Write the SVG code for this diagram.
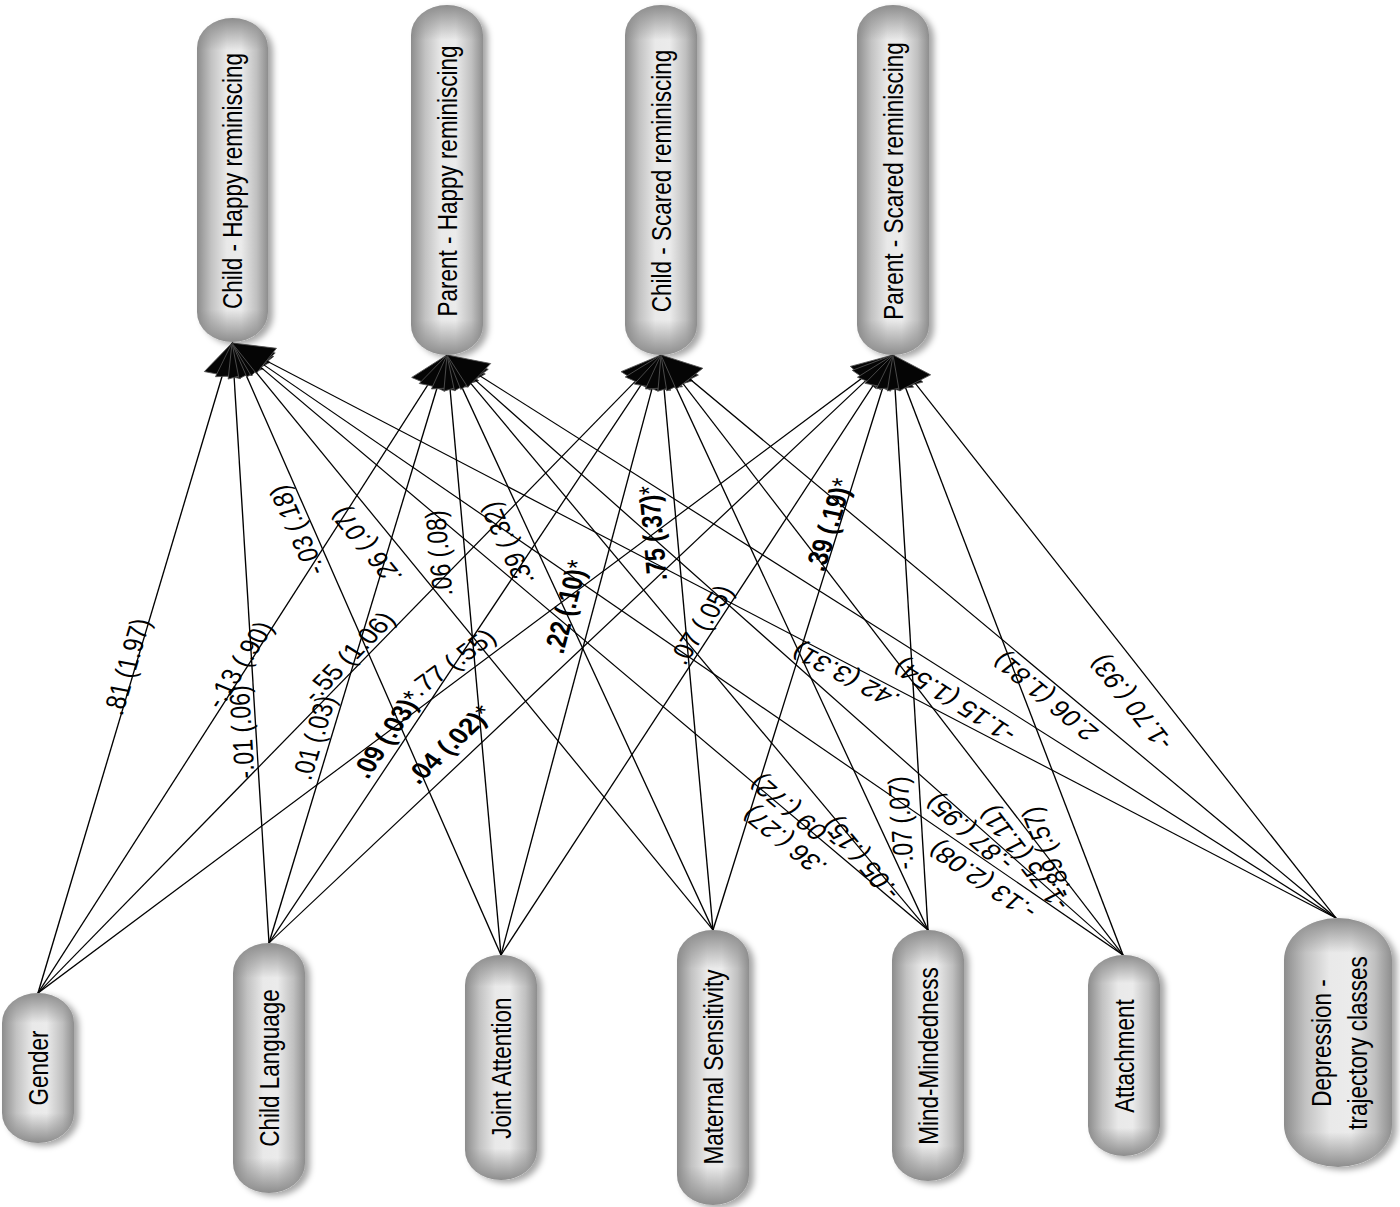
<svg xmlns="http://www.w3.org/2000/svg" width="1400" height="1207" viewBox="0 0 1400 1207">
<defs>
<style>
.edge{stroke:#000;stroke-width:1.1;fill:none;marker-end:url(#ah)}
.lbl{font-family:"Liberation Sans",Arial,sans-serif;font-size:23px;fill:#000;text-anchor:middle}
.b{font-weight:bold}
.nt{font-family:"Liberation Sans",Arial,sans-serif;font-size:22.5px;fill:#000;text-anchor:middle}
.pill{fill:url(#pillH);filter:url(#sh)}
.capL{fill:url(#capL)}
.capM{fill:url(#capM)}
.capS{fill:url(#capS)}
</style>
<marker id="ah" markerUnits="userSpaceOnUse" viewBox="-35 -17 37 34" refX="0" refY="0" markerWidth="37" markerHeight="34" orient="auto">
<path d="M0,0 L-33,-15 L-33,15 Z" fill="#050505" stroke="#555" stroke-width="0.7"/>
</marker>
<linearGradient id="pillH" x1="0" y1="0" x2="1" y2="0">
<stop offset="0" stop-color="#8c8c8c"/>
<stop offset="0.2" stop-color="#c2c2c2"/>
<stop offset="0.42" stop-color="#e9e9e9"/>
<stop offset="0.62" stop-color="#ebebeb"/>
<stop offset="0.84" stop-color="#c0c0c0"/>
<stop offset="1" stop-color="#8e8e8e"/>
</linearGradient>
<linearGradient id="capL" x1="0" y1="0" x2="0" y2="1">
<stop offset="0" stop-color="#888" stop-opacity="0.95"/>
<stop offset="0.1" stop-color="#888" stop-opacity="0"/>
<stop offset="0.9" stop-color="#888" stop-opacity="0"/>
<stop offset="1" stop-color="#888" stop-opacity="0.95"/>
</linearGradient>
<linearGradient id="capM" x1="0" y1="0" x2="0" y2="1">
<stop offset="0" stop-color="#888" stop-opacity="0.95"/>
<stop offset="0.14" stop-color="#888" stop-opacity="0"/>
<stop offset="0.86" stop-color="#888" stop-opacity="0"/>
<stop offset="1" stop-color="#888" stop-opacity="0.95"/>
</linearGradient>
<linearGradient id="capS" x1="0" y1="0" x2="0" y2="1">
<stop offset="0" stop-color="#888" stop-opacity="0.95"/>
<stop offset="0.2" stop-color="#888" stop-opacity="0"/>
<stop offset="0.8" stop-color="#888" stop-opacity="0"/>
<stop offset="1" stop-color="#888" stop-opacity="0.95"/>
</linearGradient>
<filter id="sh" x="-20%" y="-10%" width="150%" height="125%">
<feGaussianBlur in="SourceAlpha" stdDeviation="3"/>
<feOffset dx="5" dy="3" result="o"/>
<feFlood flood-color="#000" flood-opacity="0.35"/>
<feComposite in2="o" operator="in"/>
<feMerge><feMergeNode/><feMergeNode in="SourceGraphic"/></feMerge>
</filter>
</defs>
<rect width="1400" height="1207" fill="#fff"/>

<g id="connectors" transform="scale(1.24,1)">
<line class="edge" x1="30.65" y1="993" x2="187.10" y2="343"/>
<line class="edge" x1="30.65" y1="993" x2="360.48" y2="355"/>
<line class="edge" x1="30.65" y1="993" x2="533.06" y2="355"/>
<line class="edge" x1="30.65" y1="993" x2="720.16" y2="355"/>
<line class="edge" x1="216.94" y1="943" x2="187.10" y2="343"/>
<line class="edge" x1="216.94" y1="943" x2="360.48" y2="355"/>
<line class="edge" x1="216.94" y1="943" x2="533.06" y2="355"/>
<line class="edge" x1="216.94" y1="943" x2="720.16" y2="355"/>
<line class="edge" x1="404.03" y1="955" x2="187.10" y2="343"/>
<line class="edge" x1="404.03" y1="955" x2="360.48" y2="355"/>
<line class="edge" x1="404.03" y1="955" x2="533.06" y2="355"/>
<line class="edge" x1="404.03" y1="955" x2="720.16" y2="355"/>
<line class="edge" x1="575" y1="930" x2="187.10" y2="343"/>
<line class="edge" x1="575" y1="930" x2="360.48" y2="355"/>
<line class="edge" x1="575" y1="930" x2="533.06" y2="355"/>
<line class="edge" x1="575" y1="930" x2="720.16" y2="355"/>
<line class="edge" x1="748.39" y1="930" x2="187.10" y2="343"/>
<line class="edge" x1="748.39" y1="930" x2="360.48" y2="355"/>
<line class="edge" x1="748.39" y1="930" x2="533.06" y2="355"/>
<line class="edge" x1="748.39" y1="930" x2="720.16" y2="355"/>
<line class="edge" x1="905.65" y1="955" x2="187.10" y2="343"/>
<line class="edge" x1="905.65" y1="955" x2="360.48" y2="355"/>
<line class="edge" x1="905.65" y1="955" x2="533.06" y2="355"/>
<line class="edge" x1="905.65" y1="955" x2="720.16" y2="355"/>
<line class="edge" x1="1077.42" y1="918" x2="187.10" y2="343"/>
<line class="edge" x1="1077.42" y1="918" x2="360.48" y2="355"/>
<line class="edge" x1="1077.42" y1="918" x2="533.06" y2="355"/>
<line class="edge" x1="1077.42" y1="918" x2="720.16" y2="355"/>
</g>

<g id="edge-labels">
<text class="lbl" transform="translate(128,667) scale(1.24,1) rotate(-76.46)" y="7">.81 (1.97)</text>
<text class="lbl" transform="translate(240,665) scale(1.24,1) rotate(-62.67)" y="7">-.13 (.90)</text>
<text class="lbl" transform="translate(349,657) scale(1.24,1) rotate(-51.78)" y="7">-.55 (1.06)</text>
<text class="lbl" transform="translate(453,663) scale(1.24,1) rotate(-42.78)" y="7">.77 (.55)</text>
<text class="lbl" transform="translate(243,732) scale(1.24,1) rotate(-92.84)" y="7">-.01 (.06)</text>
<text class="lbl" transform="translate(315,738) scale(1.24,1) rotate(-76.28)" y="7">.01 (.03)</text>
<text class="lbl b" transform="translate(388,735) scale(1.24,1) rotate(-61.74)" y="7">.09 (.03)<tspan font-weight="normal">*</tspan></text>
<text class="lbl b" transform="translate(450,745) scale(1.24,1) rotate(-49.44)" y="7">.04 (.02)<tspan font-weight="normal">*</tspan></text>
<text class="lbl" transform="translate(298,530) scale(1.24,1) rotate(-109.52)" y="7">-.03 (.18)</text>
<text class="lbl" transform="translate(440,553) scale(1.24,1) rotate(-94.15)" y="7">.06 (.08)</text>
<text class="lbl b" transform="translate(567,607) scale(1.24,1) rotate(-77.87)" y="7">.22 (.10)<tspan font-weight="normal">*</tspan></text>
<text class="lbl" transform="translate(702,625) scale(1.24,1) rotate(-62.22)" y="7">.07 (.05)</text>
<text class="lbl" transform="translate(367,545) scale(1.24,1) rotate(-123.46)" y="7">.26 (.07)</text>
<text class="lbl" transform="translate(508,543) scale(1.24,1) rotate(-110.46)" y="7">.39 (.32)</text>
<text class="lbl b" transform="translate(654,533) scale(1.24,1) rotate(-94.17)" y="7">.75 (.37)<tspan font-weight="normal">*</tspan></text>
<text class="lbl b" transform="translate(830,525) scale(1.24,1) rotate(-75.83)" y="7">.39 (.19)<tspan font-weight="normal">*</tspan></text>
<text class="lbl" transform="translate(795,812) scale(1.24,1) rotate(-133.72)" y="7">-.09 (.72)</text>
<text class="lbl" transform="translate(785,840) scale(1.24,1) rotate(-135)" y="7">.36 (.27)</text>
<text class="lbl" transform="translate(862,858) scale(1.24,1) rotate(-124)" y="7">-.05 (.15)</text>
<text class="lbl" transform="translate(902,823) scale(1.24,1) rotate(-92.81)" y="7">-.07 (.07)</text>
<text class="lbl" transform="translate(983,880) scale(1.24,1) rotate(-139.58)" y="7">-.13 (2.08)</text>
<text class="lbl" transform="translate(970,832) scale(1.24,1) rotate(-132.26)" y="7">-.87 (.95)</text>
<text class="lbl" transform="translate(1025,858) scale(1.24,1) rotate(-121.84)" y="7">-1.75 (1.11)</text>
<text class="lbl" transform="translate(1048,852) scale(1.24,1) rotate(-107.18)" y="7">-.89 (.57)</text>
<text class="lbl" transform="translate(846,675) scale(1.24,1) rotate(-147.14)" y="7">.42 (3.31)</text>
<text class="lbl" transform="translate(955,700) scale(1.24,1) rotate(-141.86)" y="7">-1.15 (1.54)</text>
<text class="lbl" transform="translate(1046,696) scale(1.24,1) rotate(-134.04)" y="7">2.06 (1.81)</text>
<text class="lbl" transform="translate(1132,702) scale(1.24,1) rotate(-122.4)" y="7">-1.70 (.93)</text>
</g>

<g id="node-child-happy">
<rect class="pill" x="197" y="18" width="71" height="324" rx="35.5" ry="30"/>
<rect class="capL" x="197" y="18" width="71" height="324" rx="35.5" ry="30"/>
<text class="nt" transform="translate(232.5,181) scale(1.24,1) rotate(-90)" y="8">Child - Happy reminiscing</text>
</g>
<g id="node-parent-happy">
<rect class="pill" x="411" y="5" width="72" height="350" rx="36" ry="30"/>
<rect class="capL" x="411" y="5" width="72" height="350" rx="36" ry="30"/>
<text class="nt" transform="translate(447,181) scale(1.24,1) rotate(-90)" y="8">Parent - Happy reminiscing</text>
</g>
<g id="node-child-scared">
<rect class="pill" x="625" y="5" width="72" height="350" rx="36" ry="30"/>
<rect class="capL" x="625" y="5" width="72" height="350" rx="36" ry="30"/>
<text class="nt" transform="translate(661,181) scale(1.24,1) rotate(-90)" y="8">Child - Scared reminiscing</text>
</g>
<g id="node-parent-scared">
<rect class="pill" x="857" y="5" width="72" height="350" rx="36" ry="30"/>
<rect class="capL" x="857" y="5" width="72" height="350" rx="36" ry="30"/>
<text class="nt" transform="translate(893,181) scale(1.24,1) rotate(-90)" y="8">Parent - Scared reminiscing</text>
</g>

<g id="node-gender">
<rect class="pill" x="2" y="993" width="72" height="150" rx="36" ry="30"/>
<rect class="capS" x="2" y="993" width="72" height="150" rx="36" ry="30"/>
<text class="nt" transform="translate(38,1068) scale(1.24,1) rotate(-90)" y="8">Gender</text>
</g>
<g id="node-child-language">
<rect class="pill" x="233" y="943" width="72" height="250" rx="36" ry="30"/>
<rect class="capM" x="233" y="943" width="72" height="250" rx="36" ry="30"/>
<text class="nt" transform="translate(269,1068) scale(1.24,1) rotate(-90)" y="8">Child Language</text>
</g>
<g id="node-joint-attention">
<rect class="pill" x="465" y="955" width="72" height="225" rx="36" ry="30"/>
<rect class="capM" x="465" y="955" width="72" height="225" rx="36" ry="30"/>
<text class="nt" transform="translate(501,1068) scale(1.24,1) rotate(-90)" y="8">Joint Attention</text>
</g>
<g id="node-maternal-sensitivity">
<rect class="pill" x="677" y="930" width="72" height="275" rx="36" ry="30"/>
<rect class="capM" x="677" y="930" width="72" height="275" rx="36" ry="30"/>
<text class="nt" transform="translate(713,1067) scale(1.24,1) rotate(-90)" y="8">Maternal Sensitivity</text>
</g>
<g id="node-mind-mindedness">
<rect class="pill" x="892" y="930" width="72" height="251" rx="36" ry="30"/>
<rect class="capM" x="892" y="930" width="72" height="251" rx="36" ry="30"/>
<text class="nt" transform="translate(928,1056) scale(1.24,1) rotate(-90)" y="8">Mind-Mindedness</text>
</g>
<g id="node-attachment">
<rect class="pill" x="1088" y="955" width="72" height="201" rx="36" ry="30"/>
<rect class="capM" x="1088" y="955" width="72" height="201" rx="36" ry="30"/>
<text class="nt" transform="translate(1124,1056) scale(1.24,1) rotate(-90)" y="8">Attachment</text>
</g>
<g id="node-depression">
<rect class="pill" x="1284" y="918" width="108" height="249" rx="54" ry="42"/>
<rect class="capM" x="1284" y="918" width="108" height="249" rx="54" ry="42"/>
<text class="nt" transform="translate(1338,1043) scale(1.24,1) rotate(-90)"><tspan x="0" y="-6">Depression -</tspan><tspan x="0" y="23">trajectory classes</tspan></text>
</g>
</svg>
